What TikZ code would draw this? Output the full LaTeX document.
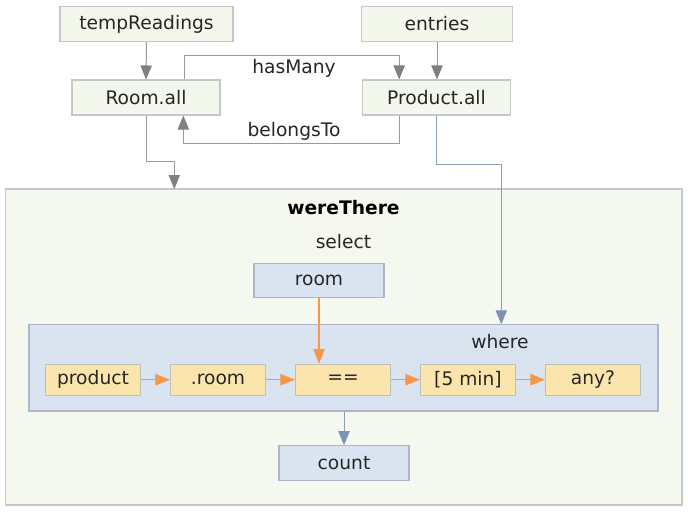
\documentclass[tikz,border=0pt]{standalone}
\usepackage{fontspec}
\setmainfont{DejaVu Sans}
\usetikzlibrary{positioning, arrows.meta}

\definecolor{boxgreen}{HTML}{F4F7EC}
\definecolor{boxline}{HTML}{C3C9C7}
\definecolor{boxblue}{HTML}{DAE3F0}
\definecolor{blueline}{HTML}{ABB7C8}
\definecolor{boxyellow}{HTML}{FCE5AD}
\definecolor{yelline}{HTML}{BDBFB9}
\definecolor{arrorange}{HTML}{F79646}
\definecolor{arrblue}{HTML}{7D92B4}
\definecolor{arrgray}{HTML}{808080}

\begin{document}
\begin{tikzpicture}[
  x=0.75pt, y=-0.75pt,
  font=\fontsize{14pt}{16pt}\selectfont,
  text=black!85,
  garr/.style={draw=arrgray!80, line width=0.75pt,
               -{Triangle[length=10.5pt, width=8.5pt, color=arrgray]}},
  barr/.style={draw=arrblue!90, line width=0.75pt,
               -{Triangle[length=10.5pt, width=8.5pt, color=arrblue]}},
  oarr/.style={draw=arrorange, line width=1pt,
               -{Triangle[length=11pt, width=8.5pt, color=arrorange]}},
  src/.style={draw=boxline, line width=0.8pt, fill=boxgreen,
              minimum width=#1, minimum height=26.25pt, inner sep=0pt},
  qbox/.style={draw=blueline, line width=0.8pt, fill=boxblue,
               minimum width=97.5pt, minimum height=26pt, inner sep=0pt},
  op/.style={draw=yelline, line width=0.8pt, fill=boxyellow,
             minimum width=71.25pt, minimum height=23.25pt, inner sep=0pt},
  lbl/.style={inner sep=0pt},
]
\useasboundingbox (0,0) rectangle (688,511);

%% ===== SOURCES =====

\node[src=129.75pt] (temp)    at (146.5,24)  {tempReadings};
\node[src=113.25pt] (entries) at (437,24)    {entries};
\node[src=111pt]    (roomall) at (146,97.5)  {Room.all};
\node[src=111pt]    (prodall) at (436.5,97.5) {Product.all};

\node[lbl] (hasmany)   at (294,68)  {hasMany};
\node[lbl] (belongsto) at (294,131) {belongsTo};

%% ===== WERETHERE =====

\draw[draw=boxline, line width=1.2pt, fill=boxgreen!90!white]
  (5.5,189) coordinate (wtnw) rectangle (682,505);
\node[lbl, font=\fontsize{14pt}{16pt}\selectfont\bfseries, text=black] (wttitle)
  at (343.5,208) {wereThere};
\node[lbl] (select) at (343.5,242) {select};

\node[qbox] (room) at (319,280.5) {room};

\draw[draw=blueline, line width=1pt, fill=boxblue]
  (29,324.3) coordinate (wherenw) rectangle (658,411) coordinate (wherese);
\node[lbl] (wherelbl) at (500,342) {where};

\foreach \nm/\txt [count=\i from 0] in {prod/product, dotroom/.room, eq/{==},
                                      fivemin/{[5 min]}, any/any?}
  \node[op] (\nm) at (93+125*\i,379.7) {\txt};

\node[qbox] (count) at (344,463) {count};

\coordinate (wtin)    at (174.3,189);
\coordinate (wherein) at (501.3,324.3);
\coordinate (whereout) at (344,411);

%% ===== ARROWS =====

\draw[garr] (temp.south) -- (roomall.north);
\draw[garr] (entries.south) -- (entries.south |- prodall.north);
\draw[garr] ([xshift=28.5pt]roomall.north) -- ++(0,-24) -| ([xshift=-28pt]prodall.north);
\draw[garr] ([xshift=-28pt]prodall.south) -- ++(0,28.3) -| ([xshift=28pt]roomall.south);
\draw[garr] (roomall.south) -- ++(0,46) -| (wtin);
\draw[barr] (prodall.south) -- ++(0,49) -| (wherein);

\draw[oarr] (room.south) -- (room.south |- eq.north);
\draw[oarr] (prod)    -- (dotroom);
\draw[oarr] (dotroom) -- (eq);
\draw[oarr] (eq)      -- (fivemin);
\draw[oarr] (fivemin) -- (any);

\draw[barr] (whereout) -- (count.north);

\end{tikzpicture}
\end{document}
